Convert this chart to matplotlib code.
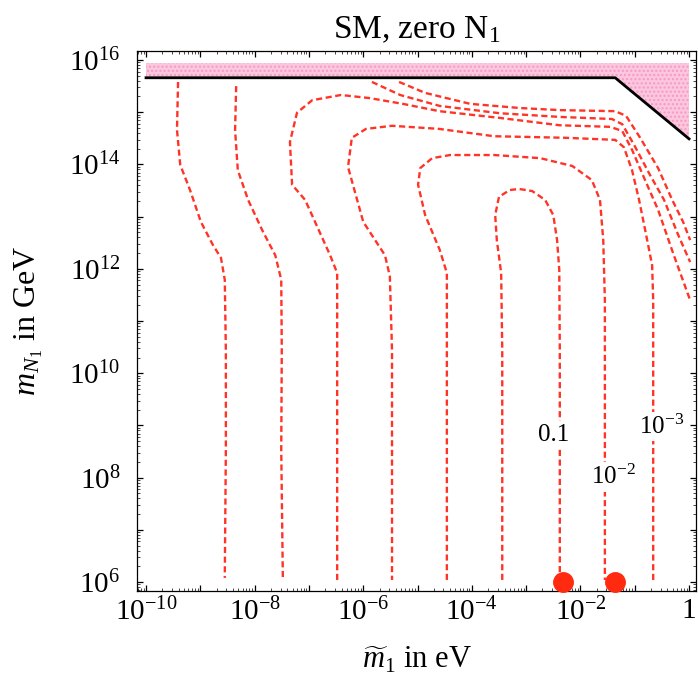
import numpy as np
import matplotlib.pyplot as plt
from matplotlib.ticker import LogLocator, NullFormatter

plt.rcParams['font.family'] = ['Liberation Serif', 'DejaVu Serif']
plt.rcParams['mathtext.fontset'] = 'custom'
plt.rcParams['mathtext.rm'] = 'Liberation Serif'
plt.rcParams['mathtext.it'] = 'Liberation Serif:italic'
plt.rcParams['mathtext.bf'] = 'Liberation Serif:bold'

# all values are log10(m~1 / eV) and log10(M_N1 / GeV)
bound_x = [-10.0, -1.36, -1.14, 0.0]
bound_y = [15.66, 15.66, 15.47, 14.49]
excl_top = 15.94

c1_x = [-9.41, -9.43, -9.37, -9.19, -8.99, -8.77, -8.62, -8.55, -8.53, -8.53, -8.55]
c1_y = [15.58, 14.66, 13.99, 13.51, 12.90, 12.46, 12.21, 11.79, 10.44, 8.53, 6.08]

c2_x = [-8.34, -8.36, -8.31, -8.12, -7.86, -7.62, -7.51, -7.50, -7.51, -7.48]
c2_y = [15.50, 14.66, 13.89, 13.32, 12.74, 12.26, 11.79, 10.44, 8.53, 6.04]

c3_x = [-6.48, -6.48, -6.48, -6.61, -7.07, -7.31, -7.35, -7.22, -6.94, -6.41, -5.88, -5.27,
        -4.60, -3.48, -2.38, -1.45, -1.23, -1.05, -0.81, -0.57, -0.28, 0.02]
c3_y = [6.04, 10.44, 11.92, 12.26, 13.32, 13.61, 14.43, 14.99, 15.23, 15.33, 15.27, 15.16,
        15.02, 14.89, 14.75, 14.72, 14.64, 14.28, 13.70, 13.13, 12.26, 11.40]

# 10^-3
c4_x = [-0.66, -0.66, -0.66, -0.68, -0.79, -0.92, -1.05, -1.20, -1.36, -2.27, -3.59, -4.60,
        -5.47, -5.95, -6.21, -6.28, -6.00, -5.60, -5.51, -5.47, -5.47]
c4_y = [6.04, 10.44, 11.40, 12.07, 12.65, 13.32, 13.89, 14.33, 14.47, 14.51, 14.54, 14.68,
        14.74, 14.68, 14.51, 13.95, 12.90, 12.26, 11.86, 10.44, 6.04]

# 10^-2
c5_x = [-4.46, -4.46, -4.46, -4.59, -4.86, -4.99, -4.95, -4.73, -4.40, -3.59, -2.74, -2.15,
        -1.79, -1.64, -1.58, -1.55, -1.55]
c5_y = [6.04, 10.44, 11.92, 12.36, 13.03, 13.61, 13.93, 14.12, 14.18, 14.18, 14.12, 13.97,
        13.70, 13.32, 12.55, 11.40, 6.04]

# 0.1
c6_x = [-3.44, -3.44, -3.46, -3.54, -3.57, -3.50, -3.30, -3.13, -2.89, -2.65, -2.50, -2.43,
        -2.39, -2.38, -2.38]
c6_y = [6.04, 10.44, 11.92, 12.55, 13.03, 13.38, 13.51, 13.53, 13.49, 13.32, 13.03, 12.55,
        11.98, 10.44, 6.04]

ca_x = [-5.84, -5.32, -4.59, -3.48, -2.38, -1.42, -1.23, -1.01, -0.72, -0.46, -0.20, 0.02]
ca_y = [15.58, 15.33, 15.12, 14.98, 14.91, 14.87, 14.77, 14.37, 13.80, 13.32, 12.65, 12.13]

cb_x = [-5.34, -4.86, -4.03, -3.11, -2.38, -1.36, -1.16, -0.90, -0.57, -0.31, -0.11, 0.02]
cb_y = [15.58, 15.37, 15.16, 15.08, 15.04, 15.02, 14.93, 14.51, 13.93, 13.32, 12.90, 12.55]

dot_x = [-2.32, -1.36]
dot_y = [6.0, 6.0]

level_labels = ['0.1', r'$10^{-2}$', r'$10^{-3}$']
level_label_x = [-2.50, -1.40, -0.50]
level_label_y = [8.82, 8.01, 8.98]

x_tick_exp = list(range(-10, 1))
x_tick_labels = [r'$10^{-10}$', '', r'$10^{-8}$', '', r'$10^{-6}$', '', r'$10^{-4}$', '',
                 r'$10^{-2}$', '', '1']
y_tick_exp = list(range(6, 17))
y_tick_labels = [r'$10^{6}$', '', r'$10^{8}$', '', r'$10^{10}$', '', r'$10^{12}$', '',
                 r'$10^{14}$', '', r'$10^{16}$']

fig = plt.figure(figsize=(6.98, 6.75), dpi=100)
ax = fig.add_axes([0.1963, 0.1244, 0.8009, 0.80])
ax.set_xscale('log')
ax.set_yscale('log')

p = lambda v: 10.0 ** np.asarray(v)

ax.fill_between(p(bound_x), p(bound_y), p(excl_top), facecolor='#fbc6de',
                edgecolor='#f49ac4', hatch='....', linewidth=0)
ax.plot(p(bound_x), p(bound_y), color='black', lw=2.0)

red = '#ff3426'
for cx, cy in [(c1_x, c1_y), (c2_x, c2_y), (c3_x, c3_y), (c4_x, c4_y),
               (c5_x, c5_y), (c6_x, c6_y), (ca_x, ca_y), (cb_x, cb_y)]:
    ax.plot(p(cx), p(cy), color=red, lw=1.7, dashes=(2.6, 1.5))

for t, lx, ly in zip(level_labels, level_label_x, level_label_y):
    ax.text(p(lx), p(ly), t, fontsize=18, ha='center', va='center',
            bbox=dict(facecolor='white', edgecolor='none', pad=2))

ax.plot(p(dot_x), p(dot_y), 'o', color='#ff2a10', ms=14, clip_on=False, zorder=5)

ax.set_xlim(p(-10.166), p(0.129))
ax.set_ylim(p(5.828), p(16.172))
ax.set_xticks(p(x_tick_exp), labels=x_tick_labels)
ax.set_yticks(p(y_tick_exp), labels=y_tick_labels)
for axis in (ax.xaxis, ax.yaxis):
    axis.set_minor_locator(LogLocator(base=10, subs=range(2, 10), numticks=100))
    axis.set_minor_formatter(NullFormatter())
ax.tick_params(which='both', direction='in', top=True, right=True)
ax.tick_params(which='major', length=4, width=0.9, labelsize=21, pad=5)
ax.tick_params(axis='y', which='major', pad=12)
ax.tick_params(which='minor', length=2, width=0.5)
for s in ax.spines.values():
    s.set_linewidth(0.9)

ax.set_title(r'SM, zero N$_1$', fontsize=24, pad=9)
ax.set_xlabel(r'$\widetilde{m}_1$ in eV', fontsize=22)
ax.set_ylabel(r'$m_{N_1}$ in GeV', fontsize=23)
ax.xaxis.set_label_coords(0.5, -0.1)
ax.yaxis.set_label_coords(-0.165, 0.5)

fig.savefig('out.png', dpi=100)
